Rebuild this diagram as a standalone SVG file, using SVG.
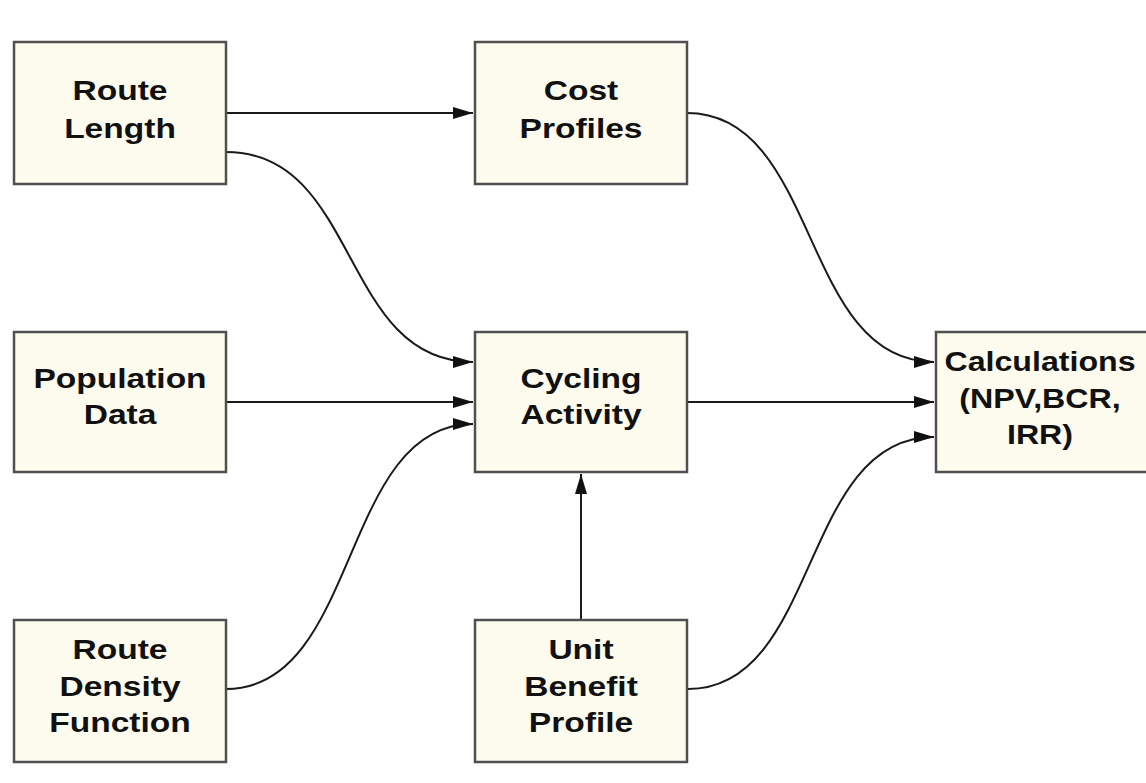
<svg xmlns="http://www.w3.org/2000/svg" width="1146" height="783" viewBox="0 0 1146 783">
<style>
.box{fill:#fdfbee;stroke:#505050;stroke-width:2.5}
.t{font-family:"Liberation Sans",Arial,sans-serif;font-weight:bold;font-size:27.5px;fill:#111;text-anchor:middle}
.c{fill:none;stroke:#1a1a1a;stroke-width:2}
</style>
<defs>
<marker id="ah" viewBox="0 0 20 12" refX="20" refY="6" markerWidth="20" markerHeight="12" markerUnits="userSpaceOnUse" orient="auto">
<path d="M0,0 L20,6 L0,12 Z" fill="#111"/>
</marker>
</defs>
<rect width="1146" height="783" fill="#ffffff"/>
<g id="connectors">
<path class="c" d="M226,113 L473,113" marker-end="url(#ah)"/>
<path class="c" d="M226,152 C360,152 340,362 473,362" marker-end="url(#ah)"/>
<path class="c" d="M226,402 L473,402" marker-end="url(#ah)"/>
<path class="c" d="M226,689 C360,689 340,424 473,424" marker-end="url(#ah)"/>
<path class="c" d="M581,620 L581,474" marker-end="url(#ah)"/>
<path class="c" d="M687,402 L934,402" marker-end="url(#ah)"/>
<path class="c" d="M687,113 C820,113 800,362 934,362" marker-end="url(#ah)"/>
<path class="c" d="M688,689 C820,689 800,437 934,437" marker-end="url(#ah)"/>
</g>
<g id="route-length">
<rect class="box" x="14" y="42" width="212" height="142"/>
<g transform="translate(120,0) scale(1.22,1)"><text class="t" x="0" y="100">Route</text><text class="t" x="0" y="138">Length</text></g>
</g>
<g id="cost-profiles">
<rect class="box" x="475" y="42" width="212" height="142"/>
<g transform="translate(581,0) scale(1.22,1)"><text class="t" x="0" y="100">Cost</text><text class="t" x="0" y="138">Profiles</text></g>
</g>
<g id="population-data">
<rect class="box" x="14" y="332" width="212" height="140"/>
<g transform="translate(120,0) scale(1.22,1)"><text class="t" x="0" y="388">Population</text><text class="t" x="0" y="424">Data</text></g>
</g>
<g id="cycling-activity">
<rect class="box" x="475" y="332" width="212" height="140"/>
<g transform="translate(581,0) scale(1.22,1)"><text class="t" x="0" y="388">Cycling</text><text class="t" x="0" y="424">Activity</text></g>
</g>
<g id="calculations">
<rect class="box" x="936" y="332" width="212" height="140"/>
<g transform="translate(1040,0) scale(1.17,1)"><text class="t" x="0" y="371">Calculations</text><text class="t" x="0" y="408">(NPV,BCR,</text><text class="t" x="0" y="444">IRR)</text></g>
</g>
<g id="route-density-function">
<rect class="box" x="14" y="620" width="212" height="142"/>
<g transform="translate(120,0) scale(1.22,1)"><text class="t" x="0" y="659">Route</text><text class="t" x="0" y="696">Density</text><text class="t" x="0" y="732">Function</text></g>
</g>
<g id="unit-benefit-profile">
<rect class="box" x="475" y="620" width="212" height="142"/>
<g transform="translate(581,0) scale(1.22,1)"><text class="t" x="0" y="659">Unit</text><text class="t" x="0" y="696">Benefit</text><text class="t" x="0" y="732">Profile</text></g>
</g>
</svg>
